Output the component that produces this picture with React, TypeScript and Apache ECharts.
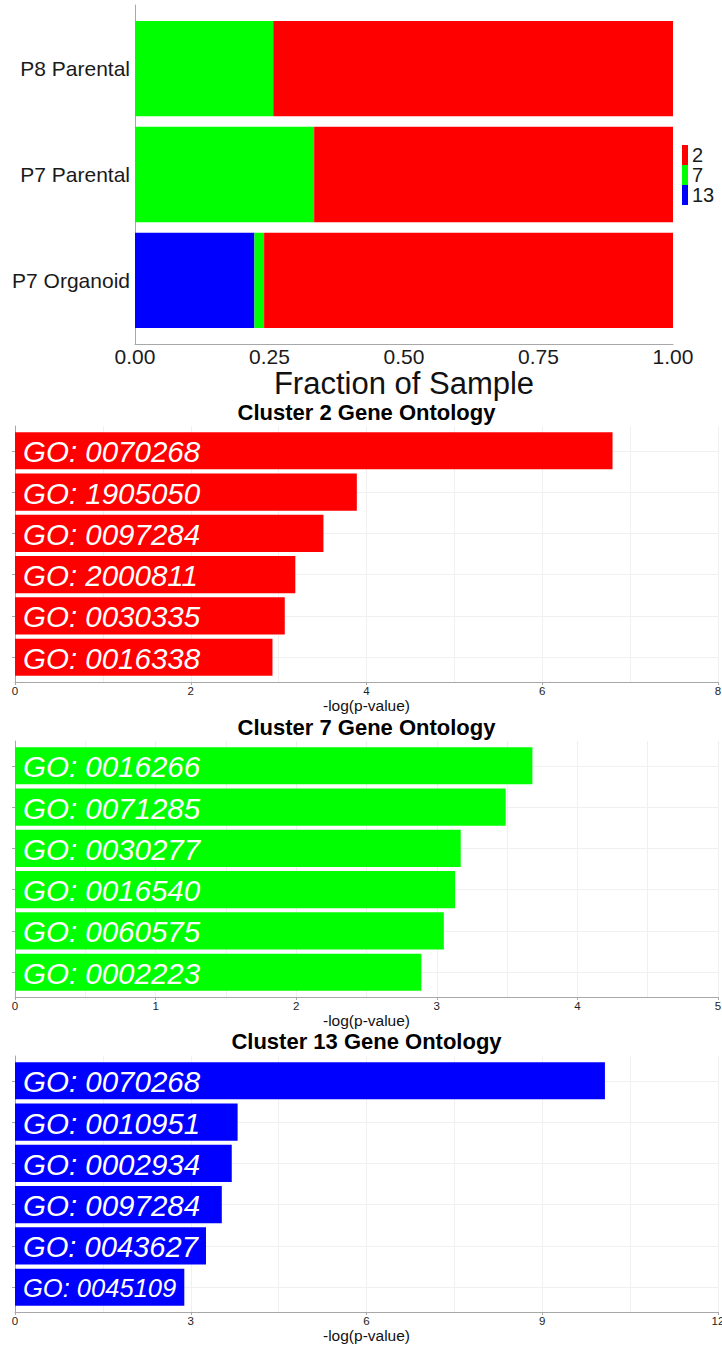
import React, { useEffect, useRef } from 'react';
import * as echarts from 'echarts';

// ---- Sample composition (fraction of cells per cluster) ----
const sampleNames = ['P8 Parental', 'P7 Parental', 'P7 Organoid'];
const cluster13Fraction = [0, 0, 0.222];
const cluster7Fraction = [0.257, 0.333, 0.018];
const cluster2Fraction = [0.743, 0.667, 0.76];
const legendKeys = ['2', '7', '13'];
const fractionTicks = [0, 0.25, 0.5, 0.75, 1];

// ---- Gene ontology enrichment per cluster: -log(p-value) ----
const cluster2Terms = ['GO: 0070268', 'GO: 1905050', 'GO: 0097284', 'GO: 2000811', 'GO: 0030335', 'GO: 0016338'];
const cluster2Scores = [6.8, 3.89, 3.51, 3.19, 3.07, 2.93];

const cluster7Terms = ['GO: 0016266', 'GO: 0071285', 'GO: 0030277', 'GO: 0016540', 'GO: 0060575', 'GO: 0002223'];
const cluster7Scores = [3.68, 3.49, 3.17, 3.13, 3.05, 2.89];

const cluster13Terms = ['GO: 0070268', 'GO: 0010951', 'GO: 0002934', 'GO: 0097284', 'GO: 0043627', 'GO: 0045109'];
const cluster13Scores = [10.07, 3.8, 3.7, 3.53, 3.26, 2.89];

const RED = '#ff0000';
const GREEN = '#00ff00';
const BLUE = '#0000ff';
const AXIS_GRAY = '#a8a8a8';
const GRID_GRAY = '#f0f0f0';
const FONT = '"Liberation Sans", Arial, Helvetica, sans-serif';
const BAR_FRACTION = 0.9;
const GO_FONT_SIZE = 29.5;
const GO_PAD = 8;

let measureCtx: CanvasRenderingContext2D | null = null;
function italicWidth(text: string, size: number): number {
  if (!measureCtx) measureCtx = document.createElement('canvas').getContext('2d');
  if (!measureCtx) return text.length * size * 0.55;
  measureCtx.font = `italic ${size}px ${FONT}`;
  return measureCtx.measureText(text).width;
}

// Horizontal bar with a white label that shrinks when the bar is too short
function makeGoRenderer(terms: string[]) {
  return (params: any, api: any) => {
    const score = api.value(0);
    const pos = api.value(1);
    const start = api.coord([0, pos]);
    const end = api.coord([score, pos]);
    const thick = api.size([0, BAR_FRACTION])[1];
    const len = end[0] - start[0];
    const text = terms[params.dataIndex];
    const natural = italicWidth(text, GO_FONT_SIZE);
    const room = len - 2 * GO_PAD;
    const size = natural > room ? (GO_FONT_SIZE * room) / natural : GO_FONT_SIZE;
    return {
      type: 'group',
      children: [
        {
          type: 'rect',
          shape: { x: start[0], y: start[1] - thick / 2, width: len, height: thick },
          style: { fill: api.visual('color') },
        },
        {
          type: 'text',
          x: start[0] + GO_PAD,
          y: start[1] + 1,
          style: {
            text,
            fill: '#ffffff',
            fontSize: size,
            fontStyle: 'italic',
            fontFamily: FONT,
            align: 'left',
            verticalAlign: 'middle',
            textAlign: 'left',
            textVerticalAlign: 'middle',
          },
        },
      ],
    };
  };
}

// Segment of a stacked horizontal bar: [start, end, position]
function stackRenderer(params: any, api: any) {
  const s = api.coord([api.value(0), api.value(2)]);
  const e = api.coord([api.value(1), api.value(2)]);
  const thick = api.size([0, BAR_FRACTION])[1];
  return {
    type: 'rect',
    shape: { x: s[0], y: s[1] - thick / 2, width: e[0] - s[0], height: thick },
    style: { fill: api.visual('color') },
  };
}

function buildOption() {
  const stackOrder = [
    { name: '13', color: BLUE, values: cluster13Fraction },
    { name: '7', color: GREEN, values: cluster7Fraction },
    { name: '2', color: RED, values: cluster2Fraction },
  ];
  const offsets = sampleNames.map(() => 0);
  const stackSeries = stackOrder.map((layer) => {
    const data = layer.values.map((v, i) => {
      const item = [offsets[i], offsets[i] + v, i + 1];
      offsets[i] += v;
      return item;
    });
    return {
      type: 'custom',
      name: layer.name,
      xAxisIndex: 0,
      yAxisIndex: 0,
      itemStyle: { color: layer.color },
      encode: { x: [0, 1], y: 2 },
      renderItem: stackRenderer,
      data,
    };
  });

  const clusters = [
    { title: 'Cluster 2 Gene Ontology', terms: cluster2Terms, scores: cluster2Scores, color: RED, max: 8, step: 2, top: 426, titleY: 412 },
    { title: 'Cluster 7 Gene Ontology', terms: cluster7Terms, scores: cluster7Scores, color: GREEN, max: 5, step: 1, top: 741, titleY: 727.5 },
    { title: 'Cluster 13 Gene Ontology', terms: cluster13Terms, scores: cluster13Scores, color: BLUE, max: 12, step: 3, top: 1056, titleY: 1041.5 },
  ];

  const grids: any[] = [
    { left: 135, top: 5, width: 538, height: 339, containLabel: false, outerBoundsMode: 'none' },
  ];
  const xAxes: any[] = [
    {
      gridIndex: 0,
      type: 'value',
      min: 0,
      max: 1,
      interval: 0.25,
      axisLine: { show: true, onZero: false, lineStyle: { color: AXIS_GRAY, width: 1 } },
      axisTick: { show: false },
      splitLine: { show: false },
      axisLabel: {
        customValues: fractionTicks,
        formatter: (v: number) => v.toFixed(2),
        fontSize: 21,
        fontFamily: FONT,
        color: '#1a1a1a',
        margin: 2,
      },
      name: 'Fraction of Sample',
      nameLocation: 'middle',
      nameGap: 21,
      nameTextStyle: { fontSize: 31, fontFamily: FONT, color: '#111' },
    },
  ];
  const yAxes: any[] = [
    {
      gridIndex: 0,
      type: 'value',
      min: 0.4,
      max: sampleNames.length + 0.6,
      inverse: true,
      axisLine: { show: true, onZero: false, lineStyle: { color: AXIS_GRAY, width: 1 } },
      axisTick: { show: false },
      splitLine: { show: false },
      axisLabel: {
        customValues: sampleNames.map((_, i) => i + 1),
        formatter: (v: number) => sampleNames[Math.round(v) - 1] ?? '',
        fontSize: 21,
        fontFamily: FONT,
        color: '#1a1a1a',
        margin: 5,
      },
    },
  ];
  const series: any[] = [...stackSeries];
  const graphics: any[] = [];

  clusters.forEach((c, k) => {
    const gi = k + 1;
    grids.push({ left: 15, top: c.top, width: 703, height: 256, containLabel: false, outerBoundsMode: 'none' });
    xAxes.push({
      gridIndex: gi,
      type: 'value',
      min: 0,
      max: c.max,
      interval: c.step,
      axisLine: { show: true, onZero: false, lineStyle: { color: AXIS_GRAY, width: 1 } },
      axisTick: { show: true, length: 3, lineStyle: { color: AXIS_GRAY } },
      minorTick: { show: false, splitNumber: 2 },
      splitLine: { show: true, lineStyle: { color: GRID_GRAY, width: 1 } },
      minorSplitLine: { show: true, lineStyle: { color: GRID_GRAY, width: 1 } },
      axisLabel: { fontSize: 11.5, fontFamily: FONT, color: '#222', margin: 3 },
      name: '-log(p-value)',
      nameLocation: 'middle',
      nameGap: 15,
      nameTextStyle: { fontSize: 15.5, fontFamily: FONT, color: '#111' },
    });
    yAxes.push({
      gridIndex: gi,
      type: 'value',
      min: 0.4,
      max: c.terms.length + 0.6,
      inverse: true,
      axisLine: { show: true, onZero: false, lineStyle: { color: AXIS_GRAY, width: 1 } },
      axisTick: { show: true, length: 3, customValues: c.terms.map((_, i) => i + 1), lineStyle: { color: AXIS_GRAY } },
      axisLabel: { show: false },
      splitLine: { show: true, lineStyle: { color: GRID_GRAY, width: 1 } },
    });
    series.push({
      type: 'custom',
      name: c.title,
      xAxisIndex: gi,
      yAxisIndex: gi,
      itemStyle: { color: c.color },
      encode: { x: 0, y: 1 },
      renderItem: makeGoRenderer(c.terms),
      data: c.scores.map((s, i) => [s, i + 1]),
    });
    graphics.push({
      type: 'text',
      x: 366.5,
      y: c.titleY,
      style: {
        text: c.title,
        fill: '#000',
        fontSize: 22,
        fontWeight: 'bold',
        fontFamily: FONT,
        align: 'center',
        verticalAlign: 'middle',
        textAlign: 'center',
        textVerticalAlign: 'middle',
      },
    });
  });

  return {
    animation: false,
    backgroundColor: '#ffffff',
    grid: grids,
    xAxis: xAxes,
    yAxis: yAxes,
    legend: {
      data: legendKeys,
      orient: 'vertical',
      left: 682,
      top: 145,
      padding: 0,
      itemGap: 0,
      itemWidth: 6,
      itemHeight: 20,
      icon: 'rect',
      selectedMode: false,
      textStyle: { fontSize: 20, fontFamily: FONT, color: '#1a1a1a', lineHeight: 20, padding: [0, 0, 0, -1] },
    },
    graphic: graphics,
    series,
  };
}

export default function App() {
  const ref = useRef<HTMLDivElement>(null);
  useEffect(() => {
    if (!ref.current) return;
    const chart = echarts.init(ref.current, undefined, { renderer: 'svg' });
    chart.setOption(buildOption() as any);
    return () => chart.dispose();
  }, []);
  return (
    <div
      ref={ref}
      style={{ position: 'absolute', left: 0, top: 0, width: 722, height: 1347, background: '#fff' }}
    />
  );
}
